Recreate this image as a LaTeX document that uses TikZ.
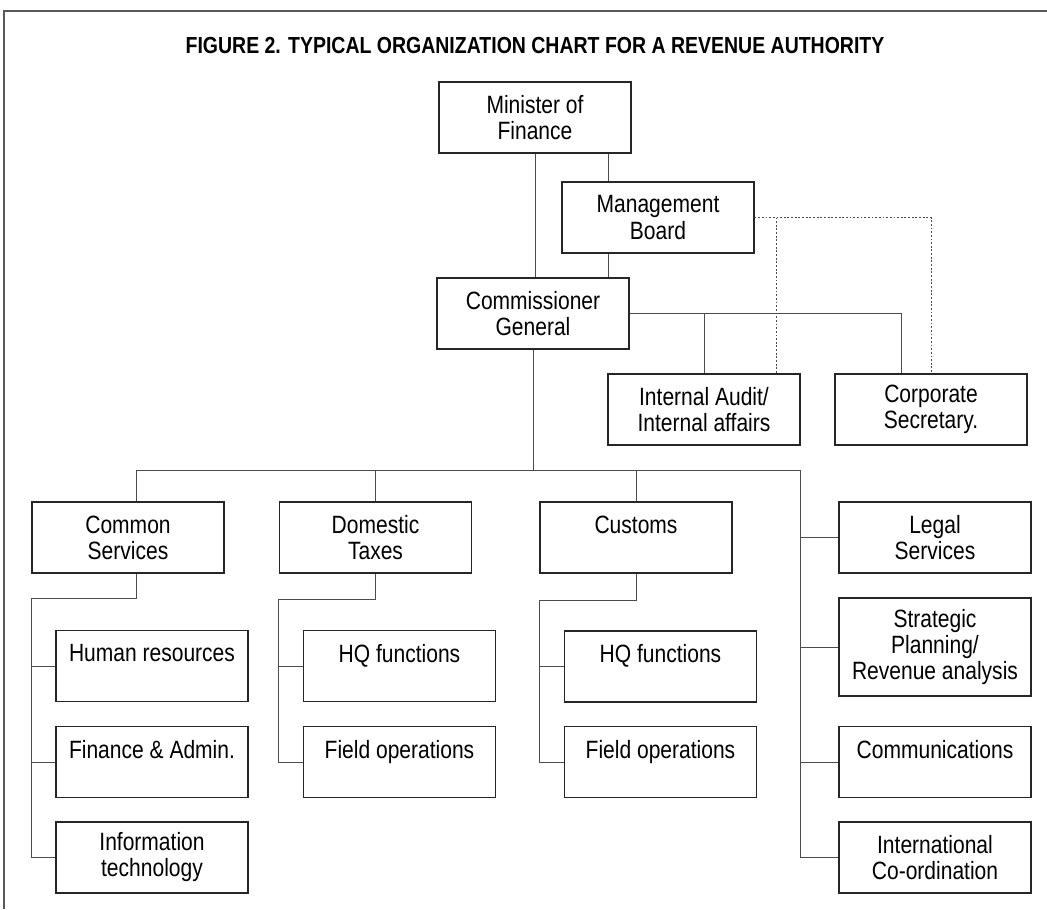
\documentclass[tikz,border=0pt]{standalone}
\usepackage{fontspec}
\setmainfont{Liberation Sans}[FakeStretch=0.84]
\newfontfamily\titlefont{Liberation Sans}[FakeStretch=0.84]
\newcommand\pxu{0.025cm}

\begin{document}
\begin{tikzpicture}[
	x=0.025cm, y=-0.025cm,
	every node/.style={font=\fontsize{17.8}{18.5}\selectfont},
	postbox/.style  = {rectangle, draw=black!85, line width=0.8pt, minimum width=4.8cm,
		minimum height=1.775cm, inner sep=0pt, align=center},
	tallbox/.style  = {postbox, minimum height=2.45cm},
	link/.style     = {draw=black!70, line width=0.7pt},
	advisory/.style = {draw=black!70, line width=0.7pt, dash pattern=on 1.3pt off 1.3pt},
	frameline/.style= {draw=black!65, line width=1.3pt},
	title/.style    = {font=\titlefont\bfseries\fontsize{16.5}{18}\selectfont}
	]
	\useasboundingbox (0,0) rectangle (1047,909);
	
	% ===================== Frame and title =====================
	\draw[frameline] (4,909) -- (4,11) -- (1047,11);
	\node[title] (fig) at (535,45.5) {FIGURE 2. TYPICAL ORGANIZATION CHART FOR A REVENUE AUTHORITY};
	
	% ===================== Top of the authority =====================
	\node[postbox] (minister) at (535,117.5) {Minister of\\Finance};
	\node[postbox] (board)    at (658,217.5) {Management\\Board};
	\node[postbox] (commish)  at (533,313.5) {Commissioner\\General};
	\node[postbox] (audit)    at (704,409.5) {Internal Audit/\\Internal affairs};
	\node[postbox] (corpsec)  at (931,409.5) {Corporate\\Secretary.};
	
	\coordinate (mbx)  at (608,0);
	\coordinate (advx) at (776,0);
	\coordinate (rbus) at (800,470);
	
	\draw[link] (minister.south) -- (minister.south |- commish.north);
	\draw[link] (minister.south -| mbx) -- (board.north -| mbx);
	\draw[link] (board.south -| mbx) -- (commish.north -| mbx);
	\draw[link] (commish.east) -| ([xshift=-30*\pxu]corpsec.north);
	\draw[link] (commish.east -| audit.north) -- (audit.north);
	
	\draw[advisory] (board.east) -| (corpsec.north);
	\draw[advisory] (board.east -| advx) -- (audit.north -| advx);
	
	% ===================== Departments =====================
	\node[postbox] (common)   at (128,537.5)   {Common\\Services};
	\node[postbox] (domestic) at (375.5,537.5) {Domestic\\Taxes};
	\node[postbox] (customs)  at (636,537.5)   {Customs\\\mbox{}};
	\node[postbox] (legal)    at (935,537.5)   {Legal\\Services};
	
	\draw[link] (commish.south) -- (commish.south |- rbus);
	\draw[link] ([xshift=8*\pxu]common.north) |- (rbus);
	\draw[link] (domestic.north) -- (domestic.north |- rbus);
	\draw[link] (customs.north) -- (customs.north |- rbus);
	
	% ===================== Common Services =====================
	\node[postbox] (hr)      at (152,666)   {Human resources\\\mbox{}};
	\node[postbox] (finadm)  at (152,762)   {Finance \& Admin.\\\mbox{}};
	\node[postbox] (infotec) at (152,857.5) {Information\\technology};
	
	\draw[link] ([xshift=8*\pxu]common.south) -- ++(0,25) -| (common.west |- infotec.west) -- (infotec.west);
	\draw[link] (common.west |- hr.west) -- (hr.west);
	\draw[link] (common.west |- finadm.west) -- (finadm.west);
	
	% ===================== Domestic Taxes =====================
	\node[postbox] (dhq)    at (399.5,666) {HQ functions\\\mbox{}};
	\node[postbox] (dfield) at (399.5,762) {Field operations\\\mbox{}};
	
	\draw[link] (domestic.south) -- ++(0,26) -| (domestic.west |- dfield.west) -- (dfield.west);
	\draw[link] (domestic.west |- dhq.west) -- (dhq.west);
	
	% ===================== Customs =====================
	\node[postbox] (chq)    at (660.5,666.5) {HQ functions\\\mbox{}};
	\node[postbox] (cfield) at (660.5,762)   {Field operations\\\mbox{}};
	
	\draw[link] (customs.south) -- ++(0,27) -| (customs.west |- cfield.west) -- (cfield.west);
	\draw[link] (customs.west |- chq.west) -- (chq.west);
	
	% ===================== Support units =====================
	\node[tallbox] (strategic) at (935,647)   {Strategic\\Planning/\\Revenue analysis};
	\node[postbox] (comms)     at (935,762)   {Communications\\\mbox{}};
	\node[postbox] (intl)      at (935,857.5) {International\\Co-ordination};
	
	\draw[link] (rbus) |- (intl.west);
	\draw[link] (rbus |- legal.west) -- (legal.west);
	\draw[link] (rbus |- strategic.west) -- (strategic.west);
	\draw[link] (rbus |- comms.west) -- (comms.west);
	
\end{tikzpicture}
\end{document}
